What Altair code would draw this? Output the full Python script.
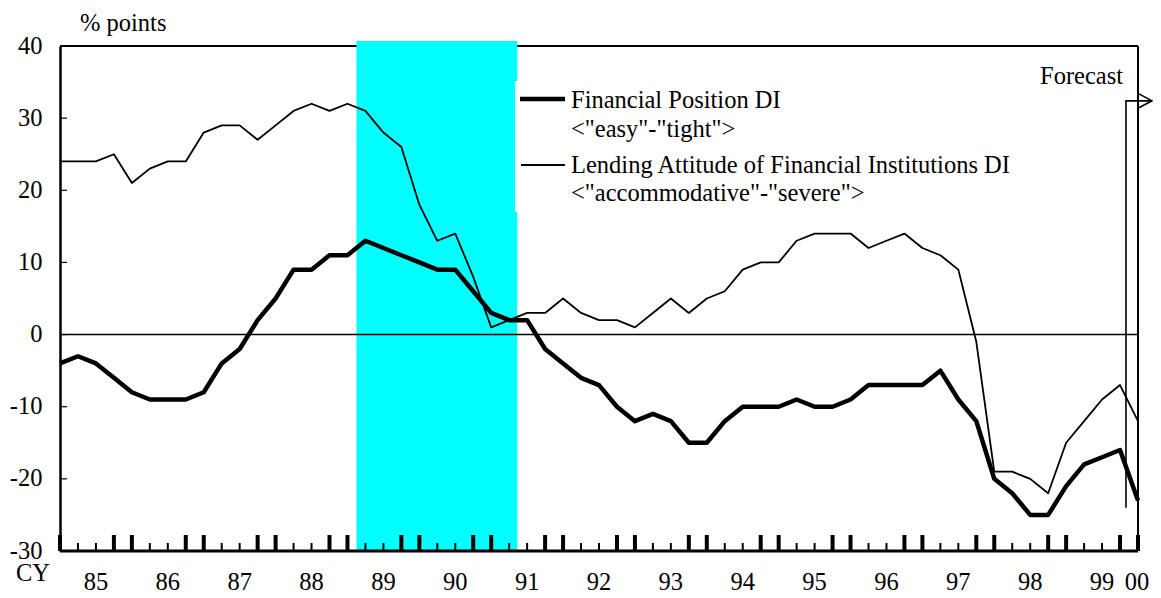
import altair as alt
import pandas as pd

# ---------------- data (quarterly, 1985Q1 .. 2000Q1) ----------------
quarter_index = list(range(61))
financial_position = [-4, -3, -4, -6, -8, -9, -9, -9, -8, -4, -2, 2, 5,
                      9, 9, 11, 11, 13,
                      12, 11, 10, 9, 9,
                      6, 3, 2, 2,
                      -2, -4, -6, -7, -10, -12, -11, -12, -15, -15,
                      -12, -10, -10, -10,
                      -9, -10, -10, -9, -7, -7, -7, -7, -5, -9,
                      -12, -20, -22, -25, -25, -21, -18, -17, -16, -23]
lending_attitude = [24, 24, 24, 25, 21, 23, 24, 24, 28, 29, 29, 27, 29,
                    31, 32, 31, 32, 31,
                    28, 26, 18, 13, 14, 8, 1,
                    2, 3, 3, 5, 3, 2, 2, 1, 3, 5, 3, 5, 6, 9, 10, 10,
                    13, 14, 14, 14, 12, 13, 14, 12, 11, 9,
                    -1, -19, -19, -20, -22, -15, -12, -9, -7, -12]
year_labels = ["85", "86", "87", "88", "89", "90", "91", "92", "93", "94",
               "95", "96", "97", "98", "99", "00"]
y_ticks = [-30, -20, -10, 0, 10, 20, 30, 40]
legend_labels = ["Financial Position DI", '<"easy"-"tight">',
                 "Lending Attitude of Financial Institutions DI",
                 '<"accommodative"-"severe">']
shade_start, shade_end = 16.5, 25.45
forecast_x, forecast_top, forecast_bottom = 59.33, 32.4, -24.0
arrow_tip, arrow_head_x, arrow_head_half = 60.78, 60.05, 0.97

# ---------------- layout ----------------
W, H = 1078, 505
FONT = "Liberation Serif"
FS = 24.5
xs = alt.Scale(domain=[0, 60], nice=False, zero=False)
ys = alt.Scale(domain=[-30, 40], nice=False, zero=False)
yaxis = alt.Axis(values=y_ticks, title=None, ticks=False, grid=False,
                 domain=True, domainColor="black", domainWidth=2.5,
                 labelFont=FONT, labelFontSize=FS, labelColor="black",
                 labelPadding=18, labelExpr="'' + datum.value")


def X(f):
    return alt.X(f, type="quantitative", scale=xs, axis=None)


def Y(f):
    return alt.Y(f, type="quantitative", scale=ys, axis=yaxis)


one = pd.DataFrame({"a": [0]})
series = pd.DataFrame({"q": quarter_index, "fp": financial_position,
                       "la": lending_attitude})
ticks = pd.DataFrame({"q": quarter_index,
                      "major": [i % 4 in (0, 3) for i in quarter_index]})
year_pos = [2 + 4 * k for k in range(len(year_labels) - 1)] + [59.95]
years = pd.DataFrame({"pos": year_pos, "lab": year_labels})
yt = pd.DataFrame({"v": y_ticks})
shade = pd.DataFrame({"s": [shade_start], "e": [shade_end]})
arrow = pd.DataFrame({
    "q": [forecast_x, forecast_x, arrow_tip,
          arrow_head_x, arrow_tip, arrow_head_x],
    "v": [forecast_bottom, forecast_top, forecast_top,
          forecast_top + arrow_head_half, forecast_top,
          forecast_top - arrow_head_half],
    "part": ["stem"] * 3 + ["head"] * 3,
    "o": [0, 1, 2, 0, 1, 2],
})


def label(text, x, y, align="left", size=FS):
    return alt.Chart(one).mark_text(
        text=text, font=FONT, fontSize=size, align=align,
        baseline="alphabetic", color="black"
    ).encode(x=alt.value(x), y=alt.value(y))


top_border = alt.Chart(one).mark_rule(color="black", strokeWidth=2).encode(
    x=alt.value(0), x2=alt.value(W), y=alt.value(0))
cyan = alt.Chart(shade).mark_rect(color="#00FFFF").encode(
    x=X("s"), x2=alt.X2("e"), y=alt.value(H), y2=alt.value(-5))
legend_box = alt.Chart(one).mark_rect(color="white").encode(
    x=alt.value(455), x2=alt.value(960), y=alt.value(35), y2=alt.value(166))
zero_line = alt.Chart(one).mark_rule(color="black", strokeWidth=1.6).encode(
    x=alt.value(0), x2=alt.value(W), y=alt.Y(datum=0, scale=ys, axis=yaxis))
right_border = alt.Chart(one).mark_rule(color="black", strokeWidth=2).encode(
    x=alt.value(W), y=alt.value(0), y2=alt.value(H))

line_la = alt.Chart(series).mark_line(color="black", strokeWidth=1.8,
                                      strokeJoin="round").encode(
    x=X("q"), y=Y("la"))
line_fp = alt.Chart(series).mark_line(color="black", strokeWidth=4.5,
                                      strokeJoin="round").encode(
    x=X("q"), y=Y("fp"))

major_ticks = alt.Chart(ticks).transform_filter("datum.major").mark_rule(
    color="black", strokeWidth=4).encode(
    x=X("q"), y=alt.value(H), y2=alt.value(H - 16))
minor_ticks = alt.Chart(ticks).transform_filter("!datum.major").mark_rule(
    color="black", strokeWidth=2).encode(
    x=X("q"), y=alt.value(H), y2=alt.value(H - 8))
bottom_axis = alt.Chart(one).mark_rule(color="black", strokeWidth=3).encode(
    x=alt.value(0), x2=alt.value(W), y=alt.value(H))
y_inward = alt.Chart(yt).mark_rule(color="black", strokeWidth=1.2).encode(
    x=alt.value(0), x2=alt.value(7), y=Y("v"))

arrow_lines = alt.Chart(arrow).mark_line(color="black", strokeWidth=1.6).encode(
    x=X("q"), y=Y("v"), detail="part:N", order="o:Q")

year_text = alt.Chart(years).mark_text(
    font=FONT, fontSize=FS, align="center", baseline="alphabetic",
    color="black").encode(x=X("pos"), y=alt.value(544), text="lab:N")

leg_fp = alt.Chart(one).mark_rule(color="black", strokeWidth=4.5).encode(
    x=alt.value(460), x2=alt.value(505), y=alt.value(53))
leg_la = alt.Chart(one).mark_rule(color="black", strokeWidth=1.8).encode(
    x=alt.value(461), x2=alt.value(505), y=alt.value(119))

chart = alt.layer(
    top_border, cyan, legend_box, zero_line, right_border,
    line_la, line_fp, major_ticks, minor_ticks, bottom_axis, y_inward,
    arrow_lines, year_text, leg_fp, leg_la,
    label(legend_labels[0], 511, 62),
    label(legend_labels[1], 511, 91),
    label(legend_labels[2], 511, 127),
    label(legend_labels[3], 511, 155),
    label("Forecast", 1063, 38, align="right"),
    label("% points", 20, -15),
    label("CY", -44, 535),
).properties(
    width=W, height=H,
    autosize=alt.AutoSizeParams(type="none"),
    padding={"left": 52, "top": 38, "right": 15, "bottom": 46},
).configure_view(stroke=None).configure(background="white")

chart.save("out.html", embed_options={"renderer": "svg", "actions": False})
